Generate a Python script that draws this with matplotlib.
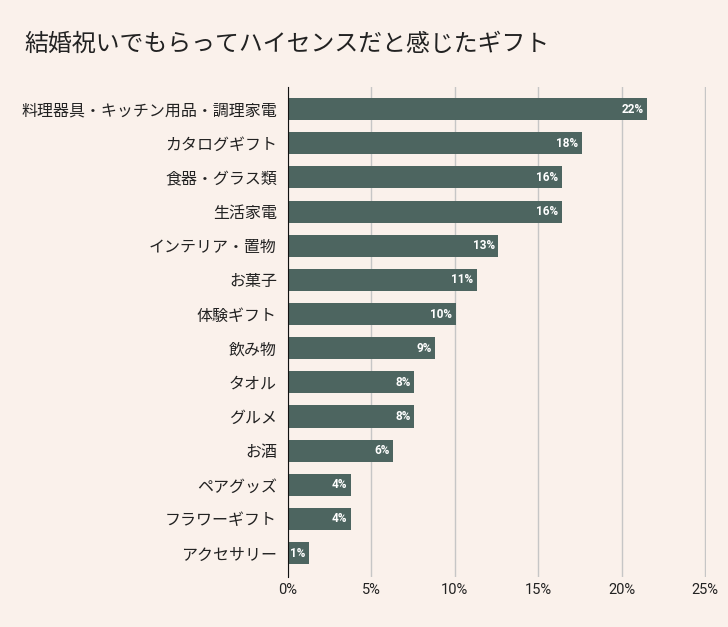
import numpy as np
import matplotlib.pyplot as plt

plt.rcParams['font.family'] = ['Noto Sans CJK JP', 'DejaVu Sans']

categories = ['料理器具・キッチン用品・調理家電', 'カタログギフト', '食器・グラス類', '生活家電',
              'インテリア・置物', 'お菓子', '体験ギフト', '飲み物', 'タオル', 'グルメ',
              'お酒', 'ペアグッズ', 'フラワーギフト', 'アクセサリー']
values = [21.5, 17.6, 16.4, 16.4, 12.6, 11.3, 10.05, 8.8, 7.55, 7.55, 6.3, 3.75, 3.75, 1.25]
labels = ['22%', '18%', '16%', '16%', '13%', '11%', '10%', '9%', '8%', '8%', '6%', '4%', '4%', '1%']
xticks = [0, 5, 10, 15, 20, 25]

bg = '#FAF1EB'
bar_color = '#4D6560'
num_font = ['Roboto', 'DejaVu Sans']

fig = plt.figure(figsize=(7.28, 6.27), dpi=100, facecolor=bg)
ax = fig.add_axes([0.3956, 0.0797, 0.5742, 0.7815], facecolor=bg)

y = np.arange(len(categories))
ax.barh(y, values, height=0.645, color=bar_color, zorder=3)
for yi, v, lab in zip(y, values, labels):
    ax.text(v - 0.2, yi, lab, ha='right', va='center', color='white',
            fontsize=8.5, fontweight='bold', family=num_font, zorder=4)

ax.set_xlim(0, 25.05)
ax.set_ylim(len(categories) - 0.3, -0.646)
ax.set_xticks(xticks)
ax.set_xticklabels([f'{t}%' for t in xticks], fontsize=10.5, color='#222222', family=num_font)
ax.set_yticks(y)
ax.set_yticklabels(categories, fontsize=11.5, color='#222222')
ax.tick_params(length=0, pad=8)
ax.tick_params(axis='x', pad=4)
ax.grid(axis='x', color='#C6C6C6', linewidth=1, zorder=0)
for s in ['top', 'right', 'bottom']:
    ax.spines[s].set_visible(False)
ax.spines['left'].set_color('#111111')
ax.spines['left'].set_zorder(5)

fig.text(0.033, 0.930, '結婚祝いでもらってハイセンスだと感じたギフト', fontsize=17.2,
         ha='left', va='center', color='#222222')

fig.savefig('out.png', dpi=100, facecolor=bg)
